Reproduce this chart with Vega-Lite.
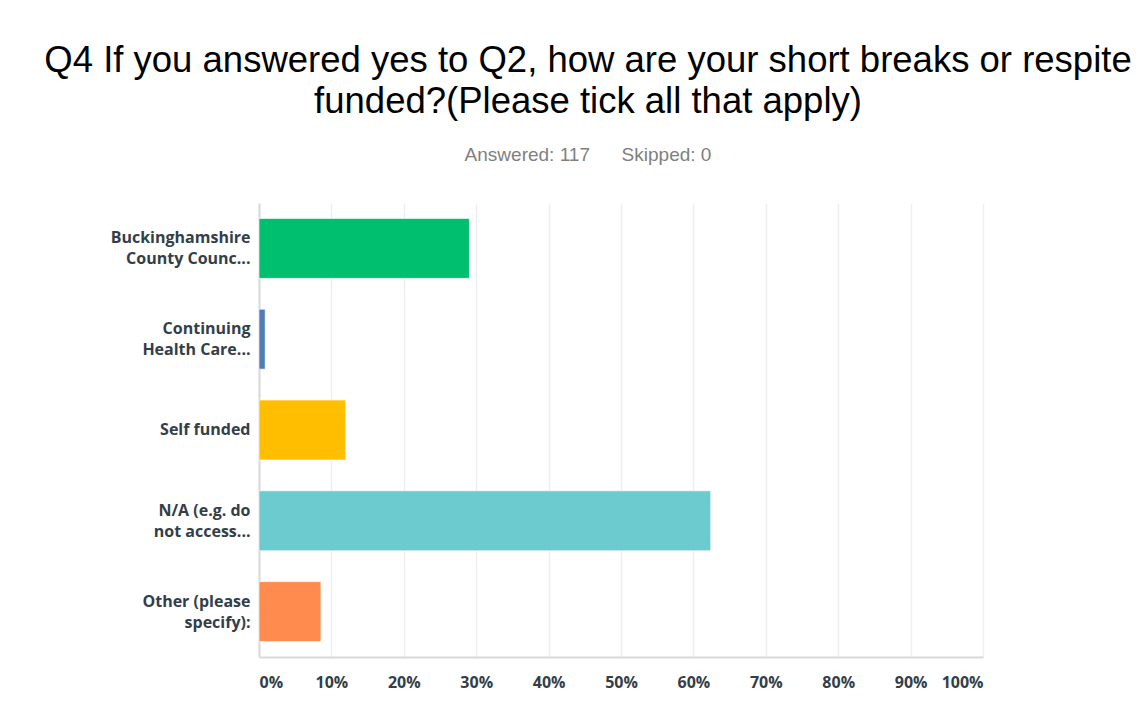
{
  "$schema": "https://vega.github.io/schema/vega-lite/v6.json",
  "autosize": "none",
  "width": 724,
  "height": 454,
  "padding": {"left": 259, "top": 203, "right": 162, "bottom": 65},
  "background": "white",
  "title": {
    "text": ["Q4 If you answered yes to Q2, how are your short breaks or respite", "funded?(Please tick all that apply)"],
    "subtitle": "Answered: 117\u00a0\u00a0\u00a0\u00a0\u00a0\u00a0Skipped: 0",
    "anchor": "middle",
    "dx": -33,
    "font": "Liberation Sans",
    "fontSize": 36.5,
    "fontWeight": "normal",
    "color": "#000000",
    "lineHeight": 41,
    "subtitleFont": "Liberation Sans",
    "subtitleFontSize": 19,
    "subtitleColor": "#7f7f7f",
    "subtitlePadding": 26,
    "offset": 38
  },
  "data": {
    "values": [
      {"label": "Buckinghamshire|County Counc...", "pct": 29.06},
      {"label": "Continuing|Health Care...", "pct": 0.85},
      {"label": "Self funded", "pct": 11.97},
      {"label": "N/A (e.g. do|not access...", "pct": 62.39},
      {"label": "Other (please|specify):", "pct": 8.55}
    ]
  },
  "mark": {"type": "bar", "stroke": "white", "strokeWidth": 1, "strokeOpacity": 0.6},
  "encoding": {
    "y": {
      "field": "label",
      "type": "nominal",
      "sort": null,
      "scale": {"paddingInner": 0.34, "paddingOuter": 0.17},
      "axis": {
        "title": null,
        "labelExpr": "split(datum.label, '|')",
        "labelOffset": {"expr": "indexof(datum.label, '|') >= 0 ? -10 : 0"},
        "labelFont": "Open Sans",
        "labelFontWeight": "bold",
        "labelFontSize": 16,
        "labelColor": "#333e48",
        "labelLineHeight": 21,
        "labelPadding": 9,
        "labelLimit": 250,
        "ticks": false,
        "domain": true,
        "domainColor": "#d9d9d9",
        "domainWidth": 2,
        "grid": false
      }
    },
    "x": {
      "field": "pct",
      "type": "quantitative",
      "scale": {"domain": [0, 100]},
      "axis": {
        "title": null,
        "values": [0, 10, 20, 30, 40, 50, 60, 70, 80, 90, 100],
        "labelExpr": "datum.value + '%'",
        "labelFont": "Open Sans",
        "labelFontWeight": "bold",
        "labelFontSize": 16,
        "labelColor": "#333e48",
        "labelPadding": 17,
        "labelFlush": true,
        "ticks": false,
        "domain": true,
        "domainColor": "#d9d9d9",
        "domainWidth": 2,
        "grid": true,
        "gridColor": "#efeff2",
        "gridWidth": 1.5
      }
    },
    "color": {
      "field": "label",
      "type": "nominal",
      "sort": null,
      "legend": null,
      "scale": {
        "domain": ["Buckinghamshire|County Counc...", "Continuing|Health Care...", "Self funded", "N/A (e.g. do|not access...", "Other (please|specify):"],
        "range": ["#00bf6f", "#507cb6", "#ffbe00", "#6bcbce", "#ff8b4f"]
      }
    }
  },
  "config": {"view": {"stroke": null}}
}
